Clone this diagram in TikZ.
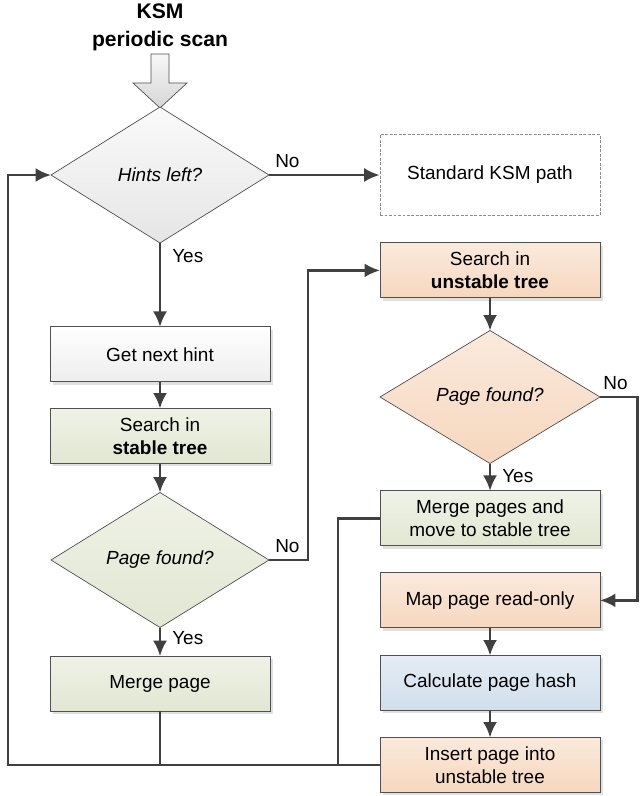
\documentclass[tikz,border=0pt]{standalone}
\usepackage{fontspec}
\setmainfont{Liberation Sans}
\usetikzlibrary{shapes.geometric, arrows.meta, shadows}

\definecolor{linegray}{HTML}{404040}
\definecolor{framegray}{HTML}{505050}
\definecolor{orangetop}{HTML}{FBEADC}
\definecolor{orangebot}{HTML}{F6D7BE}
\definecolor{greentop}{HTML}{EFF2E6}
\definecolor{greenbot}{HTML}{E2E7D3}
\definecolor{bluetop}{HTML}{E5EDF5}
\definecolor{bluebot}{HTML}{D0DEEB}

\begin{document}
\begin{tikzpicture}[
	every node/.style={font=\fontsize{13.5}{16.4}\selectfont},
	box/.style={rectangle, draw=framegray, line width=0.7pt, outer sep=0pt,
		minimum width=5.5cm, minimum height=1.375cm, align=center,
		drop shadow={shadow xshift=2pt, shadow yshift=-2pt, fill=black!12, opacity=1}},
	decision/.style={diamond, draw=framegray, line width=0.5pt, outer sep=0pt,
		minimum width=5.45cm, minimum height=3.4cm, inner sep=1pt,
		font=\fontsize{13.5}{16.4}\selectfont\itshape},
	orangefill/.style={top color=orangetop, bottom color=orangebot},
	greenfill/.style={top color=greentop, bottom color=greenbot},
	bluefill/.style={top color=bluetop, bottom color=bluebot},
	grayfill/.style={top color=white, bottom color=black!7},
	tag/.style={inner sep=0pt, anchor=base west},
	flow/.style={draw=linegray, line width=1.9pt, -{Latex[length=11pt,width=10pt]}},
	line/.style={draw=linegray, line width=1.9pt}
]
	\useasboundingbox (0,0) rectangle (16,-19.9);

	% start of the scan
	\node[font=\fontsize{15}{20}\selectfont\bfseries, align=center] (title) at (4,-0.68) {KSM\\periodic scan};
	\draw[framegray, line width=0.5pt, top color=black!3, bottom color=black!16]
		(3.775,-1.35) -- (4.225,-1.35) -- (4.225,-2.075) -- (4.675,-2.075)
		-- (4,-2.7) -- (3.325,-2.075) -- (3.775,-2.075) -- cycle;

	% left column
	\node[decision, top color=black!2, bottom color=black!10] (hints) at (4,-4.375) {Hints left?};
	\node[box, grayfill] (next) at (4,-8.86) {Get next hint};
	\node[box, greenfill] (stable) at (4,-10.9) {Search in\\\textbf{stable tree}};
	\node[decision, greenfill, minimum height=3.375cm] (foundl) at (4,-14) {Page found?};
	\node[box, greenfill] (mergep) at (4,-17.09) {Merge page};

	% right column
	\node[rectangle, draw=black!45, dashed, dash pattern=on 2pt off 1.2pt, line width=0.5pt,
		minimum width=5.5cm, minimum height=2.025cm] (std) at (12.25,-4.375) {Standard KSM path};
	\node[box, orangefill] (unst) at (12.25,-6.76) {Search in\\\textbf{unstable tree}};
	\node[decision, orangefill, minimum width=5.5cm, minimum height=3.325cm] (foundr) at (12.25,-9.925) {Page found?};
	\node[box, greenfill] (merges) at (12.25,-12.96) {Merge pages and\\move to stable tree};
	\node[box, orangefill] (map) at (12.25,-15.01) {Map page read-only};
	\node[box, bluefill] (calc) at (12.25,-17.075) {Calculate page hash};
	\node[box, orangefill] (insert) at (12.25,-19.125) {Insert page into\\unstable tree};

	% branch labels
	\node[tag] (nohints) at ([shift={(0.15,0.18)}]hints.east) {No};
	\node[tag] (yeshints) at ([shift={(0.3,-0.48)}]hints.south) {Yes};
	\node[tag] (nofoundl) at ([shift={(0.15,0.2)}]foundl.east) {No};
	\node[tag] (yesfoundl) at ([shift={(0.3,-0.43)}]foundl.south) {Yes};
	\node[tag] (nofoundr) at ([shift={(0.08,0.2)}]foundr.east) {No};
	\node[tag] (yesfoundr) at ([shift={(0.3,-0.48)}]foundr.south) {Yes};

	% routing columns
	\coordinate (loopl) at (0.2,0);
	\coordinate (jm) at (7.7,0);
	\coordinate (jr) at (8.45,0);
	\coordinate (loopr) at (15.93,0);

	% connectors
	\draw[flow] (hints.east) -- (std.west);
	\draw[flow] (hints.south) -- (next.north);
	\draw[flow] (next.south) -- (stable.north);
	\draw[flow] (stable.south) -- (foundl.north);
	\draw[flow] (foundl.south) -- (mergep.north);
	\draw[flow] (foundl.east) -- (foundl.east -| jm) |- (unst.west);
	\draw[flow] (unst.south) -- (foundr.north);
	\draw[flow] (foundr.south) -- (merges.north);
	\draw[flow] (foundr.east) -- (foundr.east -| loopr) |- (map.east);
	\draw[flow] (map.south) -- (calc.north);
	\draw[flow] (calc.south) -- (insert.north);

	\draw[line] (mergep.south) -- (mergep.south |- insert.west);
	\draw[line] (merges.west) -- (merges.west -| jr) -- (insert.west -| jr);
	\draw[flow] (insert.west) -- (insert.west -| loopl) |- (hints.west);
\end{tikzpicture}
\end{document}
